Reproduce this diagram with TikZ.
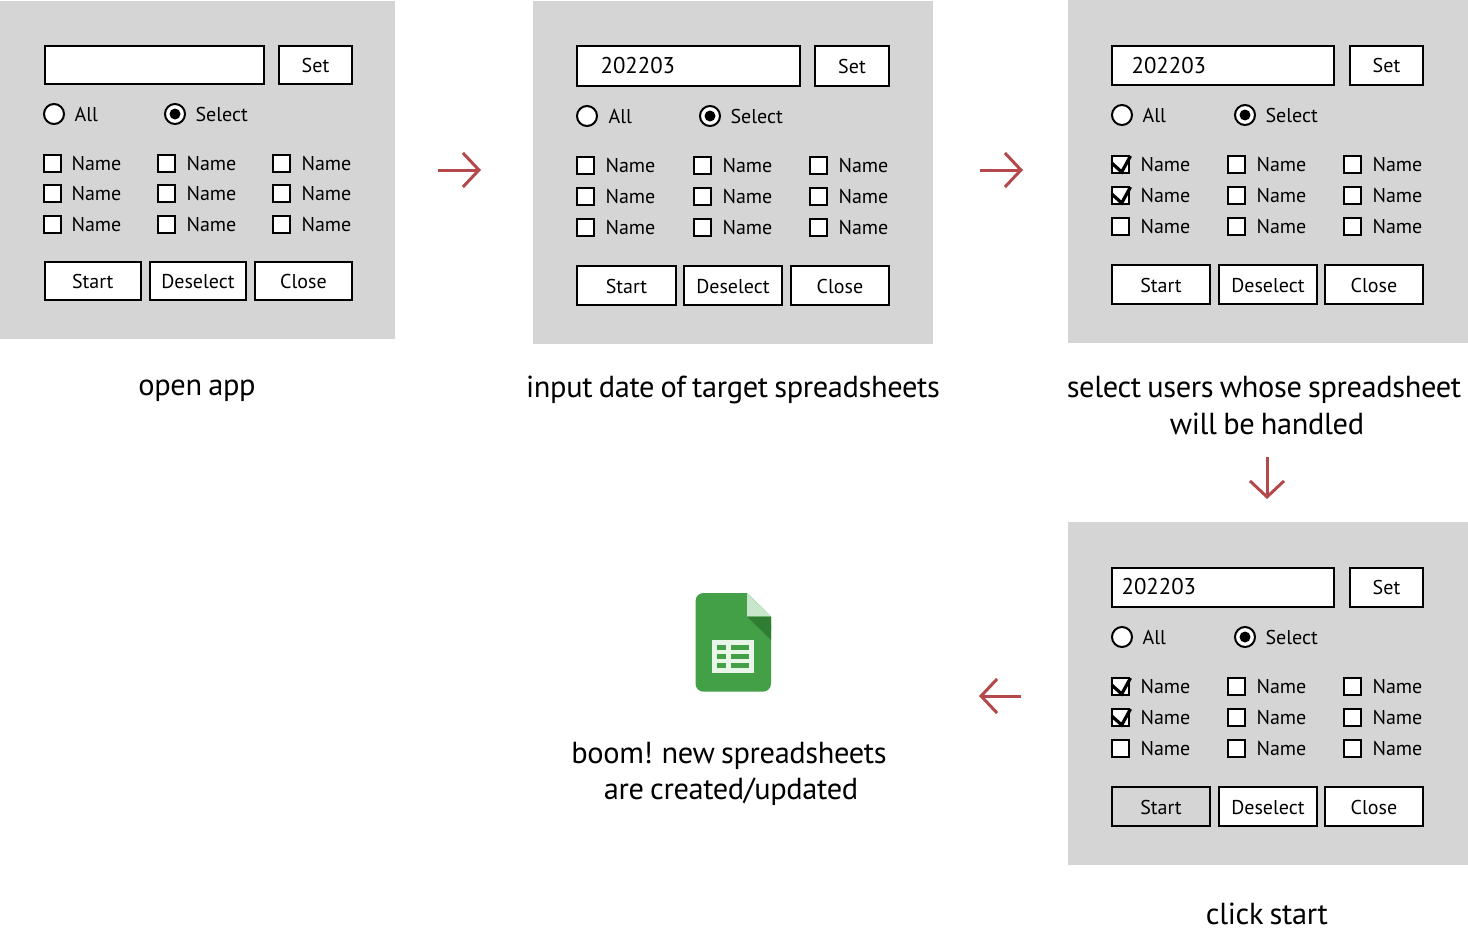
\documentclass[tikz,border=0pt]{standalone}
\usepackage{fontspec}
\setmainfont{PT Sans}
\newfontfamily\captfont[LetterSpace=-1.2,WordSpace=0.8]{PT Sans}
\usetikzlibrary{arrows.meta}
\definecolor{panelgrey}{HTML}{D5D5D5}
\definecolor{arrowred}{HTML}{B5484B}
\definecolor{sheetgreen}{HTML}{43A047}
\definecolor{sheetdark}{HTML}{2E7D32}
\definecolor{sheetfold}{HTML}{C8E6C9}
\definecolor{sheettable}{HTML}{E8F5E9}
\tikzset{
  panel/.style={fill=panelgrey,draw=none},
  field/.style={draw=black,line width=1pt,fill=white},
  lbl/.style={inner sep=0pt,font=\fontsize{10}{12}\selectfont,text=black,text height=7pt,text depth=0pt},
  btntxt/.style={lbl,yshift=-0.4pt},
  side/.style={lbl,anchor=west,xshift=-0.4pt},
  datetxt/.style={side,font=\fontsize{11.4}{14}\selectfont},
  cbx/.style={draw=black,line width=1pt,fill=white,rectangle,minimum size=8.5pt,inner sep=0pt,xshift=-0.25pt},
  rad/.style={draw=black,line width=1pt,fill=white,circle,minimum size=10pt,inner sep=0pt},
  dotc/.style={fill=black,circle,minimum size=5.5pt,inner sep=0pt},
  captxt/.style={inner sep=0pt,anchor=base,font=\captfont\fontsize{15.2}{18}\selectfont,text=black},
  flow/.style={draw=arrowred,line width=1.5pt,-{Straight Barb[length=8pt,width=17pt,line width=1.5pt]}},
  tick/.style={draw=black,line width=1.6pt},
}
\newcommand{\gridrows}[3]{% prefix, cols cx/tx, rows
  \foreach \cx/\tx in {#2}{\foreach \ry in {#3}{
    \node[cbx] (#1c\cx-\ry) at (\cx,\ry) {};
    \node[side] (#1t\cx-\ry) at (\tx,\ry) {Name};
  }}}
\newcommand{\ticked}[2]{\draw[tick] (#1-8.8,#2-1) -- (#1+1.2,#2+8) -- (#1+10,#2-8);}
\newcommand{\radios}[6]{% prefix, y, cx1, tx1, cx2, tx2
  \node[rad] (#1ra) at (#3,#2) {};
  \node[side] (#1ta) at (#4,#2) {All};
  \node[rad] (#1rb) at (#5,#2) {};
  \node[dotc] (#1rd) at (#5,#2) {};
  \node[side] (#1tb) at (#6,#2) {Select};}
\begin{document}
\begin{tikzpicture}[x=0.5pt,y=-0.5pt]
\useasboundingbox (0,0) rectangle (1468,932);
% panel 1
\fill[panel] (0,1) rectangle (395,339);
\draw[field] (44.5,46) rectangle node[lbl] (p1in) {} (264,84);
\draw[field] (279,46) rectangle node[lbl] (p1set) {Set} (352,84);
\radios{p1}{114}{54}{75}{175}{196}
\gridrows{p1}{53/72,167/187,282/302}{163,193,224}
\draw[field] (44.5,262) rectangle node[btntxt] (p1st) {Start} (141,300);
\draw[field] (150,262) rectangle node[btntxt] (p1de) {Deselect} (246,300);
\draw[field] (255,262) rectangle node[btntxt] (p1cl) {Close} (352,300);
\node[captxt] (c1) at (197,395) {open app};
% panel 2
\fill[panel] (533,1) rectangle (933,344);
\draw[field] (577,46) rectangle (800,86);
\node[datetxt] (p2in) at (601,66) {202203};
\draw[field] (815,46) rectangle node[lbl] (p2set) {Set} (889,86);
\radios{p2}{116}{587}{609}{710}{731}
\gridrows{p2}{586/606,703/723,819/839}{165,196,227}
\draw[field] (577,266) rectangle node[btntxt] (p2st) {Start} (676,305);
\draw[field] (684,266) rectangle node[btntxt] (p2de) {Deselect} (782,305);
\draw[field] (791,266) rectangle node[btntxt] (p2cl) {Close} (889,305);
\node[captxt] (c2) at (733,397.5) {input date of target spreadsheets};
% panel 3
\fill[panel] (1067.5,0) rectangle (1468,343);
\draw[field] (1112,46) rectangle (1334,85);
\node[datetxt] (p3in) at (1132,66) {202203};
\draw[field] (1350,46) rectangle node[lbl] (p3set) {Set} (1423,85);
\radios{p3}{115}{1122}{1143}{1245}{1266}
\gridrows{p3}{1121/1141,1237/1257,1353/1373}{164,195,226}
\ticked{1120.5}{164}\ticked{1120.5}{195}
\draw[field] (1112,265) rectangle node[btntxt] (p3st) {Start} (1210,304);
\draw[field] (1219,265) rectangle node[btntxt] (p3de) {Deselect} (1317,304);
\draw[field] (1325,265) rectangle node[btntxt] (p3cl) {Close} (1423,304);
\node[captxt] (c3a) at (1264,397.5) {select users whose spreadsheet};
\node[captxt] (c3b) at (1267,434) {will be handled};
% panel 4
\fill[panel] (1067.5,522) rectangle (1468,865);
\draw[field] (1112,568) rectangle (1334,607);
\node[datetxt] (p4in) at (1122,587) {202203};
\draw[field] (1350,568) rectangle node[lbl] (p4set) {Set} (1423,607);
\radios{p4}{637}{1122}{1143}{1245}{1266}
\gridrows{p4}{1121/1141,1237/1257,1353/1373}{686,717,748}
\ticked{1120.5}{686}\ticked{1120.5}{717}
\draw[field,fill=panelgrey] (1112,787) rectangle node[btntxt] (p4st) {Start} (1210,826);
\draw[field] (1219,787) rectangle node[btntxt] (p4de) {Deselect} (1317,826);
\draw[field] (1325,787) rectangle node[btntxt] (p4cl) {Close} (1423,826);
\node[captxt] (c4) at (1267,924) {click start};
% sheet icon
\fill[sheetgreen,rounded corners=4pt] (695.5,593) -- (747,593) -- (771,616.5) -- (771,691.7) -- (695.5,691.7) -- cycle;
\fill[sheetgreen] (735,593) -- (747,593) -- (771,616.5) -- (771,630) -- (735,630) -- cycle;
\fill[sheetfold] (747,593) -- (771,616.5) -- (747,616.5) -- cycle;
\fill[sheetdark] (747,616.5) -- (771,616.5) -- (771,640) -- cycle;
\fill[sheettable] (712,640) rectangle (754.3,672.7);
\foreach \ya/\yb in {645/649.5,654/658.7,663.3/668}{
  \fill[sheetgreen] (716.7,\ya) rectangle (726,\yb);
  \fill[sheetgreen] (731,\ya) rectangle (749.3,\yb);
}
\node[captxt] (c5a) at (729,763) {boom! new spreadsheets};
\node[captxt] (c5b) at (731,799) {are created/updated};
% arrows
\coordinate (a1s) at (438,170); \coordinate (a1e) at (481,170);
\coordinate (a2s) at (980,170); \coordinate (a2e) at (1023,170);
\coordinate (a3s) at (1267,457); \coordinate (a3e) at (1267,499);
\coordinate (a4s) at (1021,696); \coordinate (a4e) at (979,696);
\draw[flow] (a1s) -- (a1e);
\draw[flow] (a2s) -- (a2e);
\draw[flow] (a3s) -- (a3e);
\draw[flow] (a4s) -- (a4e);
\end{tikzpicture}
\end{document}
